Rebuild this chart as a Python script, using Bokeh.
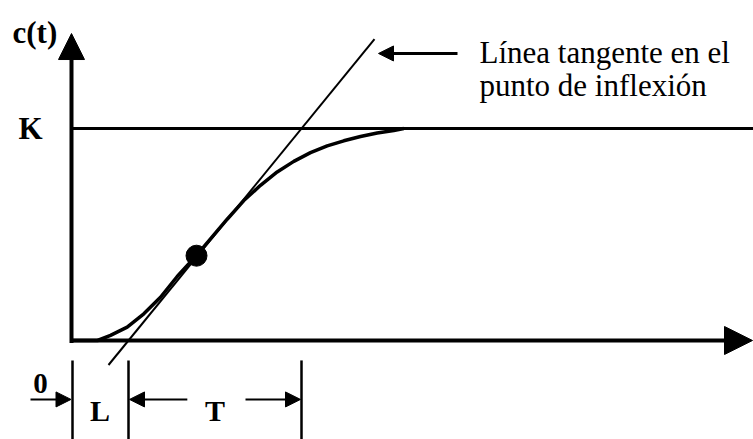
from bokeh.plotting import figure
from bokeh.models import Range1d, Arrow, NormalHead
from bokeh.core.properties import value
from bokeh.embed import file_html
from bokeh.resources import INLINE

# ---- data (t in time units, c normalised so that K = 1) ----
K = 1.0
L = 0.57          # dead time
T = 1.73          # time constant
infl_t = 1.25     # inflection point
infl_c = 0.40

curve_t = [0.00, 0.26, 0.39, 0.557, 0.723, 0.89, 1.057, 1.25, 1.39, 1.557,
           1.723, 1.89, 2.057, 2.223, 2.39, 2.557, 2.723, 2.89, 3.057, 3.223, 3.323]
curve_c = [0.00, 0.00, 0.024, 0.063, 0.126, 0.204, 0.302, 0.401, 0.479, 0.572,
           0.660, 0.732, 0.795, 0.845, 0.886, 0.918, 0.942, 0.962, 0.979, 0.991, 1.0]

tangent_t = [0.37, 3.03]

y_label = "c(t)"
k_label = "K"
zero_label = "0"
l_label = "L"
t_label = "T"
note_lines = ["Línea tangente en el", "punto de inflexión"]

SERIF = value("Liberation Serif")

p = figure(width=753, height=439, output_backend="svg", toolbar_location=None,
           x_range=Range1d(-0.71, 6.82), y_range=Range1d(-0.4670, 1.6038),
           x_axis_location=None, y_axis_location=None, min_border=0)
p.grid.visible = False
p.outline_line_color = None
p.background_fill_color = "white"
p.border_fill_color = "white"

# axes with arrowheads
p.add_layout(Arrow(x_start=0, y_start=-0.012, x_end=0, y_end=1.448, line_width=4,
                   line_color="black",
                   end=NormalHead(size=26, fill_color="black", line_color="black")))
p.add_layout(Arrow(x_start=-0.01, y_start=0, x_end=6.81, y_end=0, line_width=4,
                   line_color="black",
                   end=NormalHead(size=28, fill_color="black", line_color="black")))

# K level
p.line([0, 6.9], [K, K], line_width=3, line_color="black")

# response curve
p.line(curve_t, curve_c, line_width=3.5, line_color="black", line_join="round")

# tangent line at inflection point
tangent_c = [(t - L) / T * K for t in tangent_t]
p.line(tangent_t, tangent_c, line_width=2, line_color="black")

# inflection point
p.scatter([infl_t], [infl_c], size=21, marker="circle", fill_color="black", line_color="black")

# dimension markers below the axis
dim_y = -0.278
p.segment(x0=[0.01, L, L + T], y0=[-0.094] * 3, x1=[0.01, L, L + T], y1=[-0.5] * 3,
          line_width=2.5, line_color="black")

def dim_arrow(x0, x1):
    p.add_layout(Arrow(x_start=x0, y_start=dim_y, x_end=x1, y_end=dim_y, line_width=2,
                       line_color="black",
                       end=NormalHead(size=15, fill_color="black", line_color="black")))

dim_arrow(-0.41, -0.005)
dim_arrow(L + 0.34 * T, L + 0.01)
dim_arrow(L + T - 0.56, L + T - 0.01)

# annotation arrow
p.add_layout(Arrow(x_start=3.86, y_start=1.354, x_end=3.07, y_end=1.354, line_width=3,
                   line_color="black",
                   end=NormalHead(size=15, fill_color="black", line_color="black")))

# labels
p.text([-0.59], [1.453], text=[y_label], text_font=SERIF, text_font_size="31px",
       text_font_style="bold", text_align="left", text_baseline="alphabetic", text_color="black")
p.text([-0.41], [K], text=[k_label], text_font=SERIF, text_font_size="31px",
       text_font_style="bold", text_align="center", text_baseline="alphabetic", text_color="black")
p.text([-0.31], [-0.203], text=[zero_label], text_font=SERIF, text_font_size="29px",
       text_font_style="bold", text_align="center", text_baseline="alphabetic", text_color="black")
p.text([L / 2, L + T / 2], [-0.330, -0.330], text=[l_label, t_label], text_font=SERIF,
       text_font_size="30px", text_font_style="bold", text_align="center",
       text_baseline="alphabetic", text_color="black")
p.text([4.08, 4.08], [1.358, 1.203], text=note_lines, text_font=SERIF, text_font_size="31px",
       text_align="left", text_baseline="alphabetic", text_color="black")

open("out.html", "w").write(file_html(p, INLINE))
